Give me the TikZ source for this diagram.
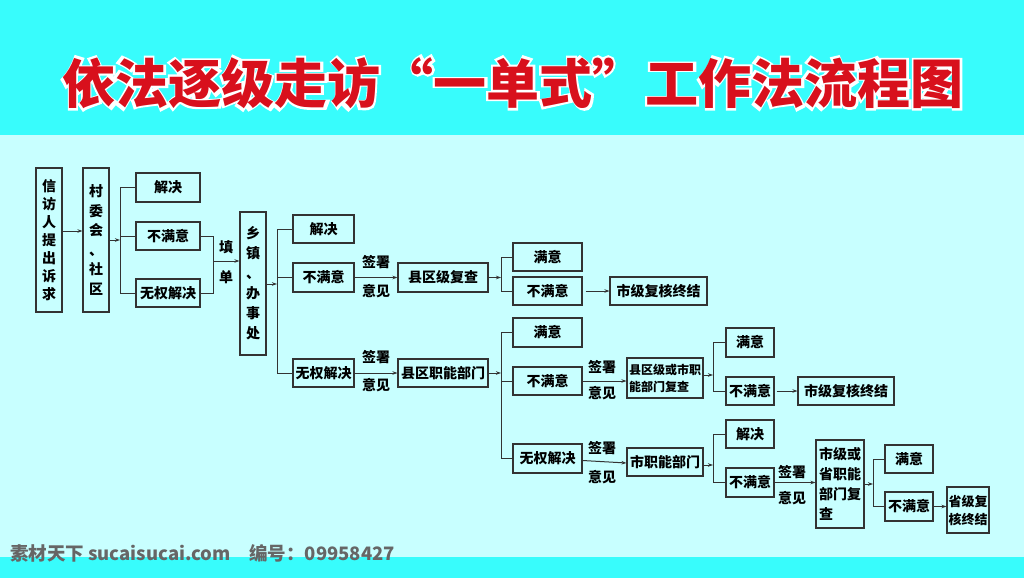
\documentclass[tikz,border=0pt]{standalone}
\usepackage{fontspec}
\newfontfamily\cjk{Noto Sans CJK SC}
\newfontfamily\cjkol{Noto Sans CJK SC}[FakeBold=12]
\usetikzlibrary{arrows.meta}
\definecolor{band}{HTML}{38FCFC}
\definecolor{pale}{HTML}{C8FFFF}
\definecolor{linec}{HTML}{333333}
\definecolor{titlered}{HTML}{D8101C}
\tikzset{
  box/.style={draw=linec, line width=1.1pt, inner sep=0pt, align=center, text=black,
    font=\cjk\bfseries\fontsize{14}{18}\selectfont},
  vbox/.style={box, minimum width=26pt, minimum height=144pt},
  conn/.style={draw=linec, line width=1pt},
  arr/.style={conn, -{Stealth[length=5pt,width=3.5pt]}},
  lbl/.style={inner sep=0pt, text=black, font=\cjk\bfseries\fontsize{14}{16}\selectfont},
  ttl/.style={inner sep=0pt, font=\cjk\bfseries\fontsize{53}{55}\selectfont},
  ttlol/.style={inner sep=0pt, font=\cjkol\fontsize{53}{55}\selectfont},
  wm/.style={inner sep=0pt, anchor=west, font=\cjk\bfseries\fontsize{18.5}{20}\selectfont}
}
\begin{document}
\begin{tikzpicture}[x=1pt,y=-1pt]
\useasboundingbox (0,0) rectangle (1024,578);
% backgrounds
\fill[band] (0,0) rectangle (1024,135);
\fill[pale] (0,135) rectangle (1024,557);
\fill[band] (0,557) rectangle (1024,578);
% title with white outline
\node[ttlol,text=white] (titleol) at (513,83) {依法逐级走访“一单式”工作法流程图};
\node[ttl,text=titlered] (title) at (513,83) {依法逐级走访“一单式”工作法流程图};

% column 1-2
\node[vbox] (n1) at (49,240) {信\\访\\人\\提\\出\\诉\\求};
\node[vbox, font=\cjk\bfseries\fontsize{14}{19.5}\selectfont] (n2) at (96,240) {村\\委\\会\\、\\社\\区};
\draw[arr] ([yshift=9pt]n1.east) -- ([yshift=9pt]n2.west);

\coordinate (b1) at (120,240);
\node[box, minimum width=64pt, minimum height=29pt] (n3) at (168,187.5) {解决};
\node[box, minimum width=64pt, minimum height=28pt] (n4) at (168,236) {不满意};
\node[box, minimum width=64pt, minimum height=28pt] (n5) at (168,293) {无权解决};
\draw[arr] (n2.east) -- (n2.east -| b1);
\draw[conn] (n3.west) -- (n3.west -| b1) -- (n5.west -| b1) -- (n5.west);
\draw[conn] (n4.west) -- (n4.west -| b1);

\node[box, minimum width=26pt, minimum height=143pt, font=\cjk\bfseries\fontsize{14}{20}\selectfont] (n6) at (253,283.5) {乡\\镇\\、\\办\\事\\处};
\coordinate (j1) at (213,261);
\draw[conn] (n4.east) -- (n4.east -| j1) -- (n5.east -| j1) -- (n5.east);
\draw[arr] (j1) -- (j1 -| n6.west);
\node[lbl] (t1) at (226,247) {填};
\node[lbl] (t2) at (226,277) {单};

% column 3
\coordinate (b2) at (277,284);
\node[box, minimum width=61pt, minimum height=28pt] (n7) at (323.5,229) {解决};
\node[box, minimum width=61pt, minimum height=29pt] (n8) at (323.5,277.5) {不满意};
\node[box, minimum width=61pt, minimum height=28pt] (n9) at (323.5,373) {无权解决};
\draw[arr] (n6.east |- b2) -- (b2);
\draw[conn] (n7.west) -- (n7.west -| b2) -- (n9.west -| b2) -- (n9.west);
\draw[conn] (n8.west) -- (n8.west -| b2);

\node[box, minimum width=90pt, minimum height=29pt] (n10) at (443,277.5) {县区级复查};
\node[box, minimum width=90pt, minimum height=28pt] (n11) at (443,373) {县区职能部门};
\draw[arr] (n8.east) -- (n10.west);
\node[lbl] (s1) at (376,262) {签署};
\node[lbl] (y1) at (376,291) {意见};
\draw[arr] (n9.east) -- (n11.west);
\node[lbl] (s2) at (376,357) {签署};
\node[lbl] (y2) at (376,385) {意见};

% column 4 upper
\coordinate (b3) at (501,278);
\node[box, minimum width=69pt, minimum height=28pt] (n12) at (547.5,257) {满意};
\node[box, minimum width=69pt, minimum height=28pt] (n13) at (547.5,291) {不满意};
\node[box, minimum width=97pt, minimum height=28pt] (n14) at (658.5,291) {市级复核终结};
\draw[arr] (n10.east) -- (n10.east -| b3);
\draw[conn] (n12.west) -- (n12.west -| b3) -- (n13.west -| b3) -- (n13.west);
\draw[arr] ([xshift=3pt]n13.east) -- (n14.west);

% column 4 lower
\coordinate (b4) at (501,374);
\node[box, minimum width=69pt, minimum height=29pt] (n15) at (547.5,332.5) {满意};
\node[box, minimum width=69pt, minimum height=28pt] (n16) at (547.5,381) {不满意};
\node[box, minimum width=69pt, minimum height=29pt] (n17) at (547.5,458.5) {无权解决};
\draw[arr] (n11.east) -- (n11.east -| b4);
\draw[conn] (n15.west) -- (n15.west -| b4) -- (n17.west -| b4) -- (n17.west);
\draw[conn] (n16.west) -- (n16.west -| b4);

\node[box, minimum width=76pt, minimum height=40pt, align=left,
  font=\cjk\bfseries\fontsize{12}{17}\selectfont] (n18) at (665,378) {县区级或市职\\能部门复查};
\draw[arr] (n16.east) -- (n18.west |- n16.east);
\node[lbl] (s3) at (602,367) {签署};
\node[lbl] (y3) at (602,393) {意见};

\node[box, minimum width=76pt, minimum height=28pt] (n22) at (665,462) {市职能部门};
\draw[arr] ([yshift=-2pt]n17.east) -- ([yshift=-1pt]n22.west);
\node[lbl] (s4) at (602,448) {签署};
\node[lbl] (y4) at (602,477) {意见};

% column 5
\coordinate (b5) at (713,375);
\node[box, minimum width=48pt, minimum height=29pt] (n19) at (750,342.5) {满意};
\node[box, minimum width=48pt, minimum height=28pt] (n20) at (750,391) {不满意};
\node[box, minimum width=96pt, minimum height=28pt] (n21) at (846,391) {市级复核终结};
\draw[arr] (n18.east |- b5) -- (b5);
\draw[conn] (n19.west) -- (n19.west -| b5) -- (n20.west -| b5) -- (n20.west);
\draw[arr] ([xshift=2pt]n20.east) -- (n21.west);

\coordinate (b6) at (713,465);
\node[box, minimum width=48pt, minimum height=28pt] (n23) at (750,434) {解决};
\node[box, minimum width=48pt, minimum height=29pt] (n24) at (750,482.5) {不满意};
\draw[arr] ([yshift=-3pt]n22.east) -- (b6);
\draw[conn] (n23.west) -- (n23.west -| b6) -- (n24.west -| b6) -- (n24.west);

\node[box, minimum width=48pt, minimum height=88pt, align=left,
  font=\cjk\bfseries\fontsize{14}{20}\selectfont] (n25) at (840,484) {市级或\\省职能\\部门复\\查};
\draw[arr] (n24.east) -- (n25.west |- n24.east);
\node[lbl] (s5) at (792,472) {签署};
\node[lbl] (y5) at (792,498) {意见};

% column 6
\coordinate (b7) at (873,484);
\node[box, minimum width=48pt, minimum height=28pt] (n26) at (909,459) {满意};
\node[box, minimum width=48pt, minimum height=29pt] (n27) at (909,506.5) {不满意};
\node[box, minimum width=42pt, minimum height=46pt,
  font=\cjk\bfseries\fontsize{13}{18}\selectfont] (n28) at (968,510) {省级复\\核终结};
\draw[arr] (n25.east |- b7) -- (b7);
\draw[conn] (n26.west) -- (n26.west -| b7) -- (n27.west -| b7) -- (n27.west);
\draw[arr] (n27.east) -- (n28.west |- n27.east);

% watermark
\node[wm, text=gray!80!black] (wmk) at (10,553) {素材天下 sucaisucai.com\quad 编号：09958427};
\end{tikzpicture}
\end{document}
